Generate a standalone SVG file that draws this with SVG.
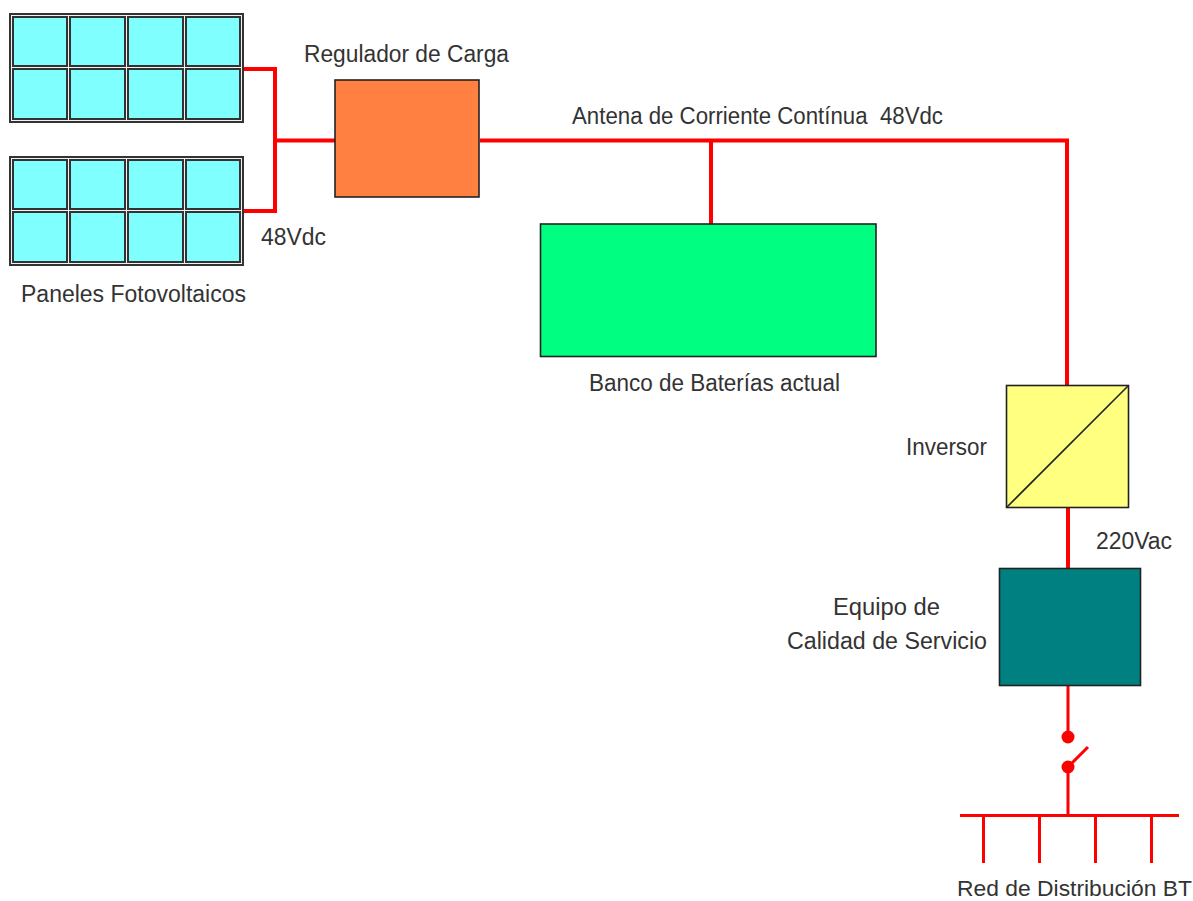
<svg xmlns="http://www.w3.org/2000/svg" width="1193" height="901" viewBox="0 0 1193 901">
<style>
text{font-family:"Liberation Sans",Arial,sans-serif;font-size:23.500px;fill:#333}
.w{fill:none;stroke:#ff0000;stroke-width:4}
.t{fill:none;stroke:#ff0000;stroke-width:3}
.f{fill:#f2f2f2;stroke:#333;stroke-width:2}
.c{fill:#80ffff;stroke:#333;stroke-width:2}
.b{stroke:#222;stroke-width:1.600}
</style>
<defs>
<g id="panel">
<rect class="f" x="10" y="0" width="233" height="108"/>
<rect class="c" x="13" y="3" width="54" height="49"/><rect class="c" x="70" y="3" width="55" height="49"/><rect class="c" x="128" y="3" width="55" height="49"/><rect class="c" x="186" y="3" width="54" height="49"/>
<rect class="c" x="13" y="55" width="54" height="50"/><rect class="c" x="70" y="55" width="55" height="50"/><rect class="c" x="128" y="55" width="55" height="50"/><rect class="c" x="186" y="55" width="54" height="50"/>
</g>
</defs>
<g id="connectors">
<path class="w" d="M244 69H275V211H244M275 140.500H335"/>
<path class="w" d="M480 140.500H1067V385M711 140V224"/>
<path class="w" d="M1068 508V568"/>
<path class="t" d="M1068 686V737M1068 767V815M1068 767L1088 747"/>
<path class="t" d="M960 815.500H1179M983.500 815V863M1039.500 815V863M1095.500 815V863M1151.500 815V863"/>
<circle cx="1068" cy="737" r="6.500" fill="#ff0000"/>
<circle cx="1068" cy="767" r="6.500" fill="#ff0000"/>
</g>
<g id="panel1"><use href="#panel" x="0" y="14"/></g>
<g id="panel2"><use href="#panel" x="0" y="157"/></g>
<g id="regulador"><rect class="b" x="335" y="80" width="144" height="117" fill="#ff8040"/></g>
<g id="baterias"><rect class="b" x="540.500" y="224" width="335.500" height="132.500" fill="#00ff80"/></g>
<g id="inversor"><rect class="b" x="1006.500" y="385.500" width="122" height="122" fill="#ffff80"/><path class="b" d="M1006.500 507.500L1128.500 385.500"/></g>
<g id="calidad"><rect class="b" x="999.500" y="568.500" width="141" height="117" fill="#008080"/></g>
<g id="labels">
<text x="304" y="62" textLength="205" lengthAdjust="spacingAndGlyphs">Regulador de Carga</text>
<text x="572" y="124" textLength="371" lengthAdjust="spacingAndGlyphs" xml:space="preserve">Antena de Corriente Contínua  48Vdc</text>
<text x="261" y="245" textLength="65" lengthAdjust="spacingAndGlyphs">48Vdc</text>
<text x="21" y="302" textLength="225" lengthAdjust="spacingAndGlyphs">Paneles Fotovoltaicos</text>
<text x="589" y="391" textLength="251" lengthAdjust="spacingAndGlyphs">Banco de Baterías actual</text>
<text x="906" y="455" textLength="81" lengthAdjust="spacingAndGlyphs">Inversor</text>
<text x="1096" y="549" textLength="76" lengthAdjust="spacingAndGlyphs">220Vac</text>
<text x="833" y="615" textLength="107" lengthAdjust="spacingAndGlyphs">Equipo de</text>
<text x="787" y="649" textLength="200" lengthAdjust="spacingAndGlyphs">Calidad de Servicio</text>
<text x="957" y="896" textLength="235" lengthAdjust="spacingAndGlyphs" style="font-size:22.500px">Red de Distribución BT</text>
</g>
</svg>
